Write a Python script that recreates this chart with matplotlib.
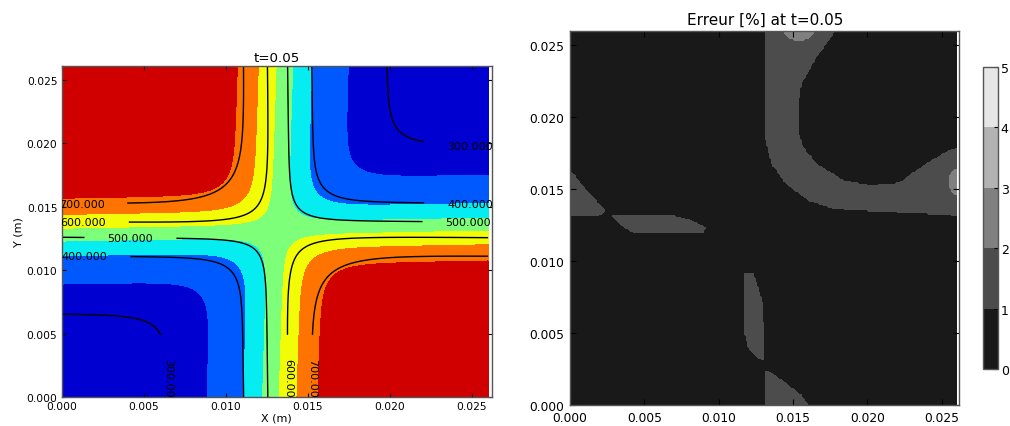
import numpy as np
import matplotlib
matplotlib.use("Agg")
import matplotlib.pyplot as plt
from matplotlib.path import Path

# ---------------- data ----------------
side = 0.026                       # domain size (m)
fill_levels = [200, 300, 400, 500, 600, 700, 800, 900]
line_levels = [300, 400, 500, 600, 700]
err_levels = [0, 1, 2, 3, 4, 5]

# filled field: centre of the vertical band at y=0 / y=side, of the horizontal band at x=0 / x=side
fill_xc = [0.01285, 0.01349]
fill_yc = [0.01288, 0.01349]
fill_base = 560.0
fill_hot = [445.0, 0.0046]         # amplitude, width (hot quadrants)
fill_cold = [296.0, 0.00291]       # amplitude, width (cold quadrants)
fill_corner = [0.0024, 0.0023]     # corner rounding hot / cold

# contour-line field
line_xc = [0.01330, 0.01305]
line_yc = [0.01331, 0.01305]
line_base = 560.0
line_hot = [250.0, 0.00308]
line_cold = [267.5, 0.00319]
line_corner = [0.0042, 0.0025]

# contour labels: value, position, vertical?
label_vals = [300, 400, 500, 700, 600, 500, 400, 300, 600, 700]
label_x = [0.0249, 0.0249, 0.0248, 0.00122, 0.0013, 0.00416, 0.00141, 0.0065, 0.01383, 0.01526]
label_y = [0.01976, 0.01517, 0.01378, 0.01522, 0.01378, 0.01252, 0.0111, 0.0013, 0.0013, 0.0013]
label_vert = [False, False, False, False, False, False, False, True, True, True]

# error map: regions (mm) with error in the 1-2 % band
band_outer = [(13.18, 26.5), (13.2, 18.4), (13.6, 16.75), (14.5, 15.4), (16.1, 14.2),
              (17.9, 13.63), (20.6, 13.47), (23.5, 13.33), (26.5, 13.15)]
band_inner = [(26.5, 17.95), (25.56, 17.68), (23.99, 16.76), (22.18, 15.42), (20.16, 15.25),
              (18.35, 15.6), (16.55, 16.76), (15.65, 17.92), (15.31, 19.07), (15.31, 20.69),
              (15.54, 22.31), (16.55, 24.17), (17.23, 25.09), (17.79, 26.0), (18.1, 26.5)]
left_wedge = [(-0.5, 16.4), (0.0, 16.3), (1.0, 15.0), (2.36, 13.45), (2.0, 13.2), (-0.5, 13.17)]
left_blob = [(2.85, 13.12), (7.0, 13.12), (8.3, 12.75), (9.1, 12.3), (8.9, 11.95),
             (4.3, 11.95), (3.6, 12.4)]
mid_blob = [(11.75, 9.2), (12.3, 9.1), (12.6, 8.2), (12.95, 7.0), (13.05, 4.5), (13.0, 3.1),
            (12.5, 3.4), (12.0, 4.0), (11.75, 5.0), (11.7, 8.0)]
bottom_wedge = [(13.15, -0.5), (13.15, 2.4), (13.6, 2.15), (14.5, 1.5), (15.5, 0.7),
                (16.3, -0.5)]
region_polys = [band_outer + band_inner, left_wedge, left_blob, mid_blob, bottom_wedge]
region_vals = [1.5, 1.5, 1.5, 1.5, 1.5]
spot_xy = [(15.4, 26.0), (26.1, 15.5)]
spot_r = [(0.95, 0.65), (0.6, 0.85)]
spot_vals = [2.5, 2.5]
err_base = 0.5

# ---------------- fields ----------------
n = 261
g = np.linspace(0, side, n)
X, Y = np.meshgrid(g, g)


def saddle(xc, yc, base, hot, cold, corner):
    cx = xc[0] + (xc[1] - xc[0]) * Y / side
    cy = yc[0] + (yc[1] - yc[0]) * X / side
    dx, dy = X - cx, Y - cy
    ph = np.clip(np.tanh(dx / corner[0]) * np.tanh(dy / corner[0]), -1 + 1e-12, 1 - 1e-12)
    pc = np.clip(np.tanh(dx / corner[1]) * np.tanh(dy / corner[1]), -1 + 1e-12, 1 - 1e-12)
    s = np.where(dx * dy < 0, -corner[0] * np.arctanh(ph), -corner[1] * np.arctanh(pc))
    return base + np.where(s > 0, hot[0] * np.tanh(s / hot[1]), cold[0] * np.tanh(s / cold[1]))


T_fill = saddle(fill_xc, fill_yc, fill_base, fill_hot, fill_cold, fill_corner)
T_line = saddle(line_xc, line_yc, line_base, line_hot, line_cold, line_corner)

# gaps in the contour lines under the labels
gap = np.zeros(X.shape, bool)
for lx, ly, vert in zip(label_x, label_y, label_vert):
    along, across = (0.0035, 0.0005) if vert else (0.00275, 0.0005)
    if vert:
        gap |= (np.abs(Y - ly) < along) & (np.abs(X - lx) < across)
    else:
        gap |= (np.abs(X - lx) < along) & (np.abs(Y - ly) < across)
T_line = np.ma.array(T_line, mask=gap)

err = np.full(X.shape, err_base)
pts = np.column_stack([X.ravel() * 1000, Y.ravel() * 1000])
for poly, v in zip(region_polys, region_vals):
    m = Path(poly).contains_points(pts).reshape(X.shape)
    err[m] = v
for (cx, cy), (rx, ry), v in zip(spot_xy, spot_r, spot_vals):
    m = ((X * 1000 - cx) / rx) ** 2 + ((Y * 1000 - cy) / ry) ** 2 < 1
    err[m] = v

# ---------------- figure ----------------
fig = plt.figure(figsize=(10.1, 4.27), dpi=100)
ax1 = fig.add_axes([0.0609, 0.0679, 0.426, 0.776])
ax2 = fig.add_axes([0.5644, 0.0492, 0.3855, 0.8766])
cax = fig.add_axes([0.9733, 0.1335, 0.0149, 0.7073])

jet = plt.cm.jet
band_cols = [jet((l + 50 - fill_levels[0]) / (fill_levels[-1] - fill_levels[0]))
             for l in fill_levels[:-1]]
ax1.contourf(X, Y, T_fill, levels=fill_levels, colors=band_cols + [band_cols[-1]],
             extend='max')
ax1.contour(X, Y, T_line, levels=line_levels, colors='k', linewidths=1.0)
for v, lx, ly, vert in zip(label_vals, label_x, label_y, label_vert):
    ax1.text(lx, ly, '%.3f' % v, fontsize=8, ha='center', va='center',
             rotation=270 if vert else 0, rotation_mode='anchor', clip_on=True)
ax1.set_xlim(0, 0.02622)
ax1.set_ylim(0, 0.0261)
ax1.set_xticks([0, 0.005, 0.01, 0.015, 0.02, 0.025])
ax1.set_yticks([0, 0.005, 0.01, 0.015, 0.02, 0.025])
ax1.set_title('t=0.05', fontsize=9.6, pad=3)
ax1.set_xlabel('X (m)', fontsize=8, labelpad=1)
ax1.set_ylabel('Y (m)', fontsize=8, labelpad=2)
ax1.tick_params(labelsize=7.7, direction='in', top=True, right=True, length=3, pad=3)

cf = ax2.contourf(X, Y, err, levels=err_levels, cmap='gray')
ax2.set_xlim(0, 0.0262)
ax2.set_ylim(0, 0.026)
ax2.set_xticks([0, 0.005, 0.01, 0.015, 0.02, 0.025])
ax2.set_yticks([0, 0.005, 0.01, 0.015, 0.02, 0.025])
ax2.set_title('Erreur [%] at t=0.05', fontsize=11, pad=5)
ax2.tick_params(labelsize=8.8, direction='in', top=True, right=True, length=4, pad=4)

cb = fig.colorbar(cf, cax=cax, ticks=err_levels)
cax.tick_params(labelsize=9, direction='in', length=3, pad=2)

for ax in (ax1, ax2, cax):
    for sp in ax.spines.values():
        sp.set_color('#555555')
        sp.set_linewidth(1.0)

fig.savefig('out.png', dpi=100)
